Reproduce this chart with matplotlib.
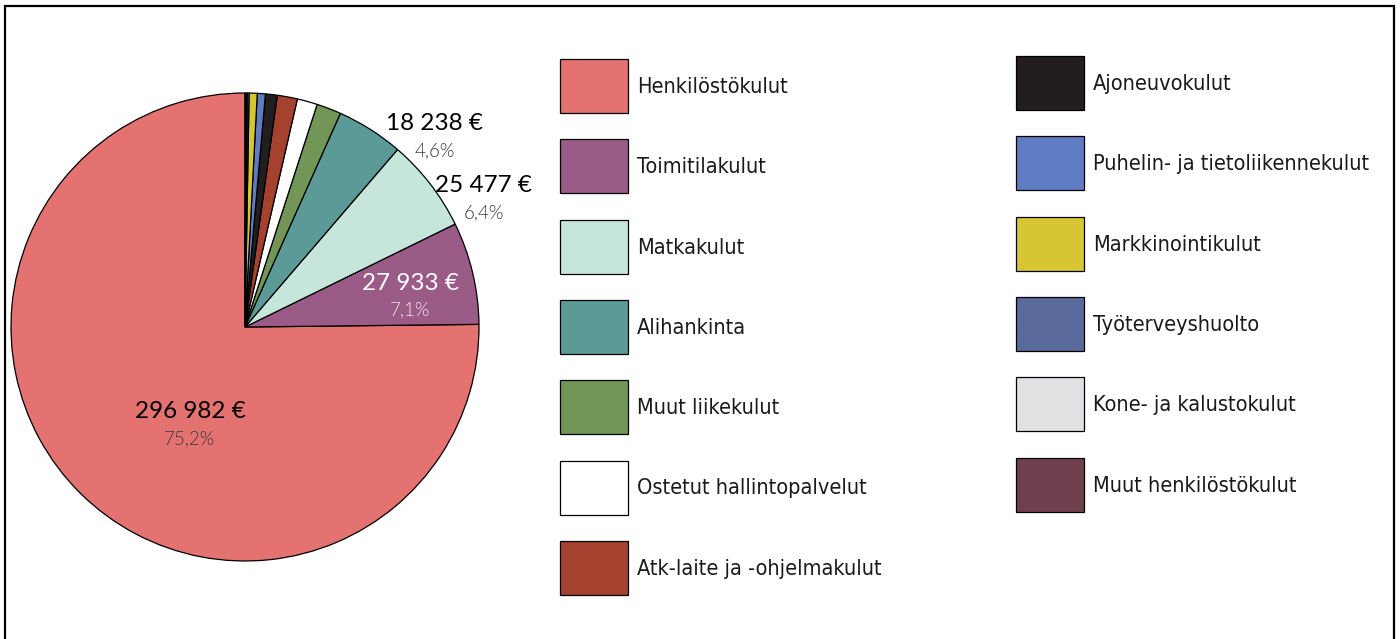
import matplotlib
matplotlib.use('Agg')
import matplotlib.pyplot as plt
from matplotlib.patches import Rectangle

# Cost categories and amounts (EUR)
categories = ['Henkilöstökulut', 'Toimitilakulut', 'Matkakulut', 'Alihankinta',
              'Muut liikekulut', 'Ostetut hallintopalvelut', 'Atk-laite ja -ohjelmakulut',
              'Ajoneuvokulut', 'Puhelin- ja tietoliikennekulut', 'Markkinointikulut',
              'Työterveyshuolto', 'Kone- ja kalustokulut', 'Muut henkilöstökulut']
values = [296982, 27933, 25477, 18238,
          6700, 5500, 5500,
          3200, 2200, 2200,
          500, 300, 300]
colors = ['#E37270', '#9A5B87', '#C6E6DB', '#5C9A98',
          '#719657', '#FFFFFF', '#A4422F',
          '#221E20', '#5F7BC1', '#D6C634',
          '#5B6A9C', '#DFE1E2', '#6E3F4D']

# labelled slices: index, value text, percent text, label position (pie units), text colour
labelled = [0, 1, 2, 3]
value_texts = ['296 982 €', '27 933 €', '25 477 €', '18 238 €']
pct_texts = ['75,2%', '7,1%', '6,4%', '4,6%']
label_pos = [(-0.235, -0.42), (0.705, 0.13), (1.02, 0.545), (0.81, 0.81)]
label_colors = ['black', 'white', 'black', 'black']
pct_colors = ['#3a3a3a', '#f0e6ee', '#3a3a3a', '#3a3a3a']

W, H = 1400, 639
fig = plt.figure(figsize=(W / 100, H / 100), dpi=100)

# pie axes: centre at (245, 327) px, radius 234 px
cx, cy, r = 245, 327, 234
ax = fig.add_axes([(cx - r) / W, (H - cy - r) / H, 2 * r / W, 2 * r / H])
ax.pie(values, colors=colors, startangle=90, counterclock=True,
       wedgeprops=dict(edgecolor='black', linewidth=0.9))
ax.set_xlim(-1, 1)
ax.set_ylim(-1, 1)
ax.set_aspect('equal')
ax.axis('off')

for i, (x, y) in zip(labelled, label_pos):
    ax.text(x, y + 0.058, value_texts[i], ha='center', va='center',
            fontsize=17.5, family='Lato', color=label_colors[i])
    ax.text(x, y - 0.058, pct_texts[i], ha='center', va='center',
            fontsize=13.5, family='Lato', weight=300, color=pct_colors[i])

# legend drawn as swatches + text, two columns of 7 and 6
col_x = [560, 1016]
col_top = [59, 56]
pitch = 80.3
sw_w, sw_h = 68, 54
for i, (name, c) in enumerate(zip(categories, colors)):
    col, row = divmod(i, 7)
    x0 = col_x[col]
    y0 = col_top[col] + row * pitch
    fig.add_artist(Rectangle((x0 / W, 1 - (y0 + sw_h) / H), sw_w / W, sw_h / H,
                             transform=fig.transFigure, facecolor=c,
                             edgecolor='black', linewidth=0.9))
    fig.text((x0 + sw_w + 9) / W, 1 - (y0 + sw_h / 2 + 1) / H, name,
             ha='left', va='center', fontsize=15.6, family='DejaVu Sans',
             stretch='condensed', color='#1a1a1a')

# outer frame
fig.add_artist(Rectangle((5 / W, -0.05), 1389 / W, 1.05 - 6 / H, transform=fig.transFigure,
                         fill=False, edgecolor='black', linewidth=1.6))

fig.savefig('out.png', dpi=100)
